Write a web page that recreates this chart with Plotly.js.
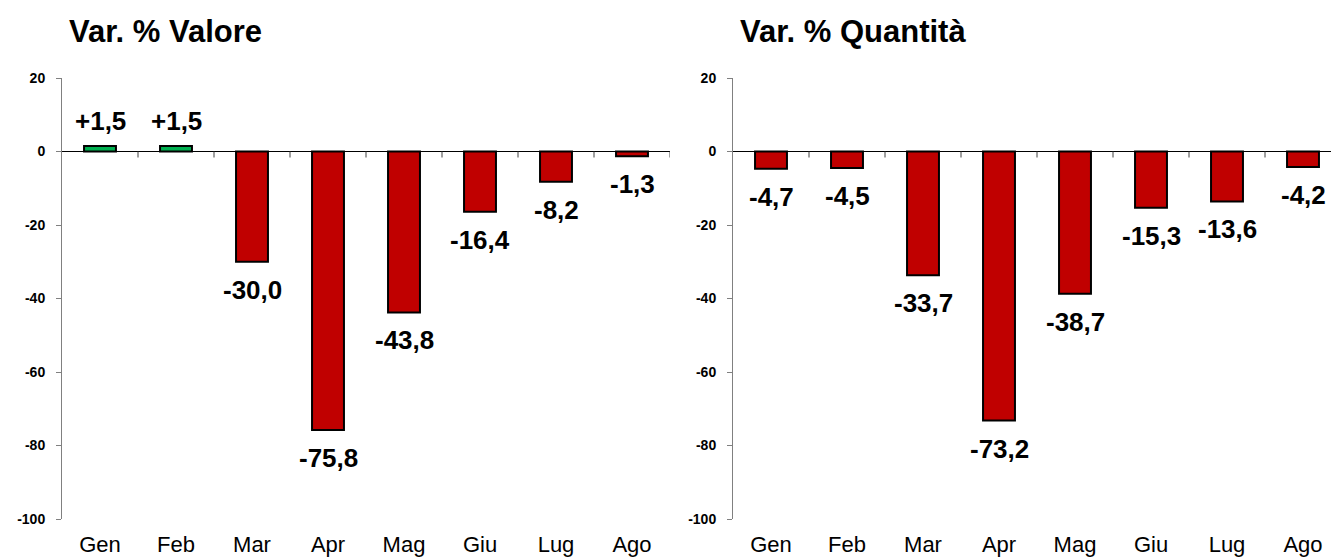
<!DOCTYPE html>
<html>
<head>
<meta charset="utf-8">
<script src="https://cdn.plot.ly/plotly-3.0.1.min.js"></script>
<style>
  html, body { margin: 0; padding: 0; background: #ffffff; }
  #chart { width: 1331px; height: 559px; }
</style>
</head>
<body>
<div id="chart"></div>
<script>
// ---- data ----
const months = ["Gen", "Feb", "Mar", "Apr", "Mag", "Giu", "Lug", "Ago"];
const valoreChange = [1.5, 1.5, -30.0, -75.8, -43.8, -16.4, -8.2, -1.3];
const quantitaChange = [-4.7, -4.5, -33.7, -73.2, -38.7, -15.3, -13.6, -4.2];
const yTickValues = [20, 0, -20, -40, -60, -80, -100];
const panelTitles = ["Var. % Valore", "Var. % Quantità"];

// ---- style ----
const FONT = "Liberation Sans, Arial, Helvetica, sans-serif";
const RED = "#C00000";
const GREEN = "#00B050";
const W = 1331, H = 559;
const ML = 62, MR = 0, MT = 78, MB = 40;
const plotW = W - ML - MR;
const catPx = 76;
const leftEnd = 670, rightStart = 733;

function fmt(v) {
  const s = Math.abs(v).toFixed(1).replace(".", ",");
  return (v > 0 ? "+" : "-") + s;
}

function barTrace(vals, xa, ya) {
  return {
    type: "bar",
    x: months,
    y: vals,
    xaxis: xa,
    yaxis: ya,
    width: 0.42,
    marker: {
      color: vals.map(v => v >= 0 ? GREEN : RED),
      line: { color: "#000000", width: 2 }
    },
    hoverinfo: "x+y",
    showlegend: false
  };
}

const data = [
  barTrace(valoreChange, "x", "y"),
  barTrace(quantitaChange, "x2", "y2")
];

const yAxisBase = {
  range: [-100, 20],
  tickvals: yTickValues,
  ticktext: yTickValues.map(String),
  ticks: "outside",
  ticklen: 5,
  tickwidth: 1,
  tickcolor: "#808080",
  showline: true,
  linecolor: "#808080",
  linewidth: 1,
  showgrid: false,
  zeroline: false,
  tickfont: { family: FONT, size: 14, color: "#000000", weight: "bold" },
  ticklabelstandoff: 8,
  fixedrange: true
};

const xAxisBase = {
  type: "category",
  showline: false,
  showgrid: false,
  zeroline: false,
  ticks: "outside",
  ticklen: 6,
  tickcolor: "rgba(0,0,0,0)",
  tickfont: { family: FONT, size: 22, color: "#000000" },
  fixedrange: true
};

const leftDomain = [0, (leftEnd - ML) / plotW];
const rightDomain = [(rightStart - ML) / plotW, 1];
const rightRangeEnd = -0.5 + (W - rightStart) / catPx;

const shapes = [];
const annotations = [];

function addPanel(vals, xa, ya, xref, yref, title, domainStart) {
  // zero line across the panel
  shapes.push({
    type: "line", xref: xref + " domain", yref: yref,
    x0: 0, x1: 1, y0: 0, y1: 0,
    line: { color: "#000000", width: 1 }
  });
  // category boundary tick marks hanging below the zero line
  for (let k = 0; k < months.length; k++) {
    shapes.push({
      type: "line", xref: xref, yref: yref,
      ysizemode: "pixel", yanchor: 0,
      x0: k + 0.5, x1: k + 0.5, y0: 0, y1: -6,
      line: { color: "#404040", width: 1 }
    });
  }
  // value labels
  vals.forEach((v, i) => {
    annotations.push({
      xref: xref, yref: yref, x: months[i], y: v,
      text: "<b>" + fmt(v) + "</b>",
      showarrow: false,
      xanchor: "center",
      yanchor: v >= 0 ? "bottom" : "top",
      yshift: v >= 0 ? 8 : -11,
      font: { family: FONT, size: 26, color: "#000000" }
    });
  });
  // panel title
  annotations.push({
    xref: "paper", yref: "paper",
    x: domainStart, y: 1 + (MT - 31) / (H - MT - MB),
    xshift: 5,
    xanchor: "left", yanchor: "middle",
    text: "<b>" + title + "</b>",
    showarrow: false,
    font: { family: FONT, size: 31, color: "#000000" }
  });
}

addPanel(valoreChange, "x", "y", "x", "y", panelTitles[0], leftDomain[0]);
addPanel(quantitaChange, "x2", "y2", "x2", "y2", panelTitles[1], rightDomain[0]);

const layout = {
  width: W,
  height: H,
  margin: { l: ML, r: MR, t: MT, b: MB, pad: 0 },
  paper_bgcolor: "#ffffff",
  plot_bgcolor: "#ffffff",
  showlegend: false,
  xaxis: Object.assign({}, xAxisBase, { domain: leftDomain, anchor: "y", range: [-0.5, 7.5] }),
  xaxis2: Object.assign({}, xAxisBase, { domain: rightDomain, anchor: "y2", range: [-0.5, rightRangeEnd] }),
  yaxis: Object.assign({}, yAxisBase, { anchor: "x", domain: [0, 1] }),
  yaxis2: Object.assign({}, yAxisBase, { anchor: "x2", domain: [0, 1] }),
  shapes: shapes,
  annotations: annotations,
  font: { family: FONT }
};

Plotly.newPlot("chart", data, layout, { displayModeBar: false, staticPlot: true });
</script>
</body>
</html>
